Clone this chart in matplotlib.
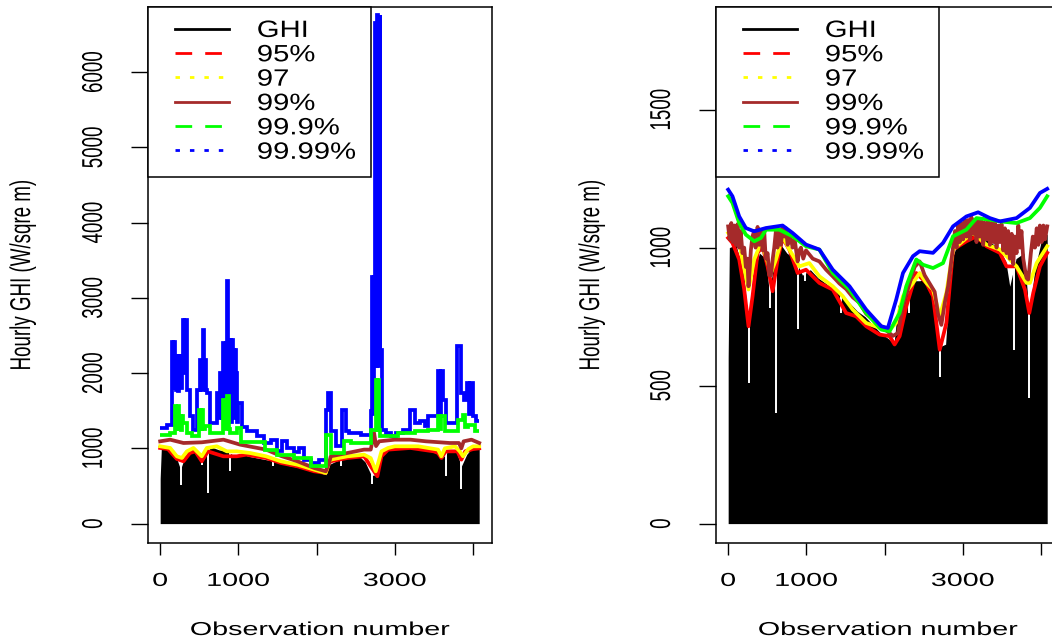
import numpy as np
import matplotlib
matplotlib.use("Agg")
import matplotlib.pyplot as plt
from matplotlib.lines import Line2D
from matplotlib.legend_handler import HandlerLine2D
from matplotlib.patheffects import AbstractPathEffect
from matplotlib.transforms import Affine2D

plt.rcParams['font.family'] = ['Liberation Sans', 'DejaVu Sans']

# ---- data -------------------------------------------------------------
# hourly GHI (same series in both panels), top of the black area
ghi_obs = [0, 15, 100, 200, 260, 320, 400, 480, 525, 580, 650, 750, 850, 950,
           1050, 1150, 1250, 1350, 1450, 1550, 1650, 1750, 1850, 1950, 2050,
           2120, 2170, 2250, 2350, 2450, 2550, 2620, 2700, 2780, 2850, 2950,
           3050, 3150, 3250, 3350, 3450, 3550, 3600, 3680, 3780, 3850, 3920,
           4000, 4079]
ghi_val = [600, 1000, 1010, 900, 720, 900, 980, 960, 840, 930, 1020, 980, 960,
           900, 920, 890, 870, 850, 830, 800, 770, 750, 720, 690, 670, 650, 790,
           830, 880, 880, 890, 820, 640, 650, 950, 1030, 1040, 1050, 1040, 1020,
           1000, 950, 860, 960, 980, 760, 920, 1020, 1050]
# single low observations (white gaps in the black area)
dip_obs = [260, 533, 615, 893, 985, 1445, 2307, 2705, 3650, 3850]
dip_low = [510, 780, 400, 705, 880, 763, 763, 530, 628, 455]

# left panel: step-like quantile estimates (edges / level of each step)
blue_l_edges = [0, 85, 150, 165, 178, 190, 205, 218, 232, 246,
                260, 274, 290, 303, 316, 340, 375, 426, 468, 511,
                528, 545, 560, 575, 590, 605, 640, 724, 745, 767,
                788, 809, 826, 843, 860, 873, 886, 900, 914, 928,
                942, 956, 971, 986, 1001, 1044, 1107, 1235, 1329, 1414,
                1500, 1563, 1627, 1712, 1776, 1840, 1925, 2032, 2117, 2151,
                2181, 2245, 2330, 2373, 2415, 2565, 2692, 2712, 2722, 2735,
                2745, 2760, 2775, 2790, 2805, 2815, 2837, 2893, 2956, 3020,
                3106, 3190, 3255, 3318, 3382, 3425, 3553, 3575, 3595, 3617,
                3659, 3800, 3843, 3885, 3928, 3948, 3965, 4000, 4043, 4080]
blue_l_vals = [1270, 1315, 2408, 1800, 2408, 2222, 1780, 2222, 1760, 2222,
               1800, 2222, 2700, 2000, 2700, 1780, 1425, 1248, 1780, 2178,
               1780, 2568, 1800, 2178, 1780, 1735, 1337, 1735, 1400, 2000,
               1400, 2400, 1400, 2400, 3218, 1500, 2444, 1350, 2444, 2310,
               1400, 2310, 2000, 1350, 1600, 1290, 1226, 1160, 1071, 1115,
               960, 1093, 1005, 947, 1005, 850, 806, 850, 1514, 1735,
               1226, 1027, 1514, 1226, 1204, 1182, 1500, 3280, 1450, 3280,
               6650, 2100, 6760, 2100, 6760, 2311, 1248, 1204, 1160, 1204,
               1248, 1514, 1337, 1359, 1293, 1425, 2023, 1425, 2023, 1647,
               1337, 2355, 1735, 1647, 1868, 1450, 1868, 1425, 1359]
green_l_edges = [0, 128, 192, 207, 222, 238, 255, 270, 285, 298,
                 341, 405, 502, 518, 535, 552, 575, 639, 809, 826,
                 843, 860, 877, 894, 988, 1030, 1340, 1500, 1712, 1925,
                 2117, 2181, 2351, 2437, 2692, 2756, 2770, 2785, 2800, 2811,
                 3042, 3255, 3425, 3553, 3575, 3595, 3638, 3808, 3872, 3900,
                 3936, 4021, 4080]
green_l_vals = [1182, 1204, 1558, 1260, 1558, 1260, 1425, 1250, 1425, 1337,
                1204, 1160, 1514, 1260, 1514, 1260, 1293, 1204, 1647, 1260,
                1647, 1691, 1260, 1204, 1270, 1080, 983, 916, 872, 761,
                1182, 939, 1093, 1071, 1248, 1912, 1250, 1912, 1250, 1160,
                1204, 1226, 1248, 1425, 1260, 1425, 1226, 1381, 1447, 1280,
                1315, 1226]
red_l_obs = [0, 100, 213, 298, 380, 450, 532, 610, 700, 809, 980, 1100, 1354, 1542,
             1755, 1968, 2117, 2160, 2181, 2394, 2607, 2692, 2777, 2829, 2914, 3200,
             3500, 3553, 3595, 3650, 3800, 3851, 3900, 4000, 4079]
red_l_val = [1005, 990, 859, 828, 938, 960, 828, 960, 930, 894, 894, 916, 872, 806,
             761, 695, 673, 800, 828, 872, 894, 761, 629, 894, 983, 1005, 960, 938,
             872, 960, 960, 850, 960, 990, 1000]
yel_l_obs = [0, 128, 213, 277, 341, 426, 532, 596, 724, 852, 980, 1150, 1354, 1542,
             1755, 1968, 2117, 2160, 2181, 2394, 2607, 2692, 2756, 2800, 2829, 2914,
             3000, 3300, 3553, 3595, 3640, 3770, 3830, 3872, 3940, 4000, 4079]
yel_l_val = [1027, 1005, 894, 872, 960, 1005, 894, 1005, 1027, 960, 960, 938, 894,
             828, 783, 717, 673, 820, 850, 894, 916, 870, 695, 850, 960, 1005, 1027,
             1027, 983, 894, 1000, 1027, 960, 894, 990, 1027, 1027]
brn_l_obs = [0, 128, 298, 532, 809, 1022, 1354, 1542, 1755, 1968, 2117, 2160, 2181,
             2394, 2607, 2692, 2735, 2760, 2800, 2999, 3200, 3400, 3700, 3820, 3851,
             3880, 3980, 4079]
brn_l_val = [1093, 1115, 1071, 1080, 1115, 1049, 983, 900, 828, 739, 695, 806, 894,
             938, 983, 983, 1204, 1030, 1093, 1115, 1115, 1093, 1071, 1071, 1000,
             1093, 1115, 1071]

# right panel: smoothed quantile estimates
blue_r_obs = [0, 55, 141, 226, 333, 483, 696, 824, 995, 1166, 1337, 1551, 1765,
              1957, 2042, 2149, 2235, 2363, 2448, 2619, 2747, 2875, 3046, 3196,
              3346, 3474, 3687, 3858, 3986, 4079]
blue_r_val = [1210, 1186, 1113, 1071, 1059, 1071, 1080, 1053, 1011, 993, 920, 860,
              775, 715, 709, 812, 908, 969, 987, 981, 1017, 1077, 1113, 1128, 1107,
              1095, 1107, 1144, 1198, 1213]
green_r_obs = [0, 55, 141, 226, 333, 418, 483, 653, 824, 995, 1166, 1337, 1551,
               1765, 1957, 2064, 2192, 2277, 2405, 2491, 2619, 2747, 2875, 3046,
               3175, 3346, 3474, 3687, 3858, 3986, 4079]
green_r_val = [1186, 1162, 1089, 1047, 1023, 1035, 1065, 1065, 1041, 1005, 993, 908,
               848, 763, 703, 697, 763, 860, 957, 938, 926, 944, 1041, 1065, 1107,
               1101, 1095, 1089, 1107, 1144, 1186]
yel_r_obs = [0, 55, 141, 226, 260, 333, 418, 483, 547, 611, 696, 782, 910, 1038,
             1166, 1337, 1465, 1594, 1765, 1935, 2064, 2149, 2235, 2363, 2448, 2534,
             2619, 2705, 2790, 2875, 3046, 3132, 3303, 3474, 3602, 3687, 3815, 3858,
             3944, 4079]
yel_r_val = [1053, 1029, 1017, 896, 848, 957, 1017, 969, 908, 957, 1041, 993, 932,
             944, 896, 860, 824, 775, 727, 709, 703, 727, 824, 872, 908, 872, 848,
             751, 836, 993, 1035, 1053, 1011, 993, 957, 932, 872, 872, 944, 1005]
red_r_obs = [0, 55, 141, 205, 260, 312, 376, 440, 504, 568, 632, 696, 782, 888, 995,
             1166, 1337, 1508, 1636, 1765, 1935, 2064, 2128, 2192, 2277, 2405, 2534,
             2619, 2705, 2790, 2875, 3046, 3175, 3303, 3474, 3559, 3687, 3794, 3850,
             3901, 3986, 4079]
red_r_val = [1035, 1017, 957, 848, 715, 824, 981, 1005, 932, 842, 957, 1035, 993,
             908, 920, 872, 848, 763, 751, 715, 685, 679, 649, 679, 787, 908, 872,
             824, 630, 727, 993, 1023, 1041, 1005, 981, 932, 932, 848, 763, 836, 932,
             981]
brn_r_obs = [0, 20, 40, 60, 80, 100, 120, 141, 160, 183,
             205, 226, 245, 260, 275, 290, 310, 333, 350, 376,
             395, 418, 440, 461, 480, 504, 525, 547, 570, 589,
             610, 630, 654, 675, 696, 718, 740, 760, 790, 824,
             850, 888, 910, 931, 960, 995, 1081, 1166, 1252, 1337,
             1423, 1508, 1594, 1679, 1765, 1850, 1935, 2021, 2106, 2170,
             2235, 2320, 2384, 2448, 2512, 2576, 2640, 2683, 2726, 2769,
             2812, 2875, 2900, 2920, 2939, 2960, 2980, 3004, 3025, 3046,
             3068, 3090, 3110, 3130, 3153, 3175, 3196, 3217, 3240, 3260,
             3280, 3303, 3325, 3346, 3368, 3388, 3410, 3431, 3452, 3474,
             3495, 3517, 3538, 3559, 3580, 3602, 3625, 3645, 3665, 3687,
             3710, 3730, 3750, 3773, 3795, 3815, 3835, 3850, 3870, 3895,
             3922, 3945, 3965, 3985, 4008, 4030, 4051, 4079]
brn_r_val = [1077, 1030, 1089, 1020, 1080, 1010, 1085, 1000, 1060, 980,
             1000, 930, 960, 860, 920, 990, 1040, 1060, 1000, 1075,
             1010, 1060, 990, 1060, 960, 980, 900, 900, 960, 1000,
             1060, 1000, 1065, 1010, 1075, 1040, 1070, 1010, 1050, 1000,
             1030, 950, 990, 1000, 960, 990, 960, 950, 920, 896,
             870, 850, 820, 800, 760, 740, 720, 700, 680, 690,
             790, 870, 930, 950, 900, 870, 840, 760, 720, 800,
             860, 1000, 1060, 1000, 1080, 1020, 1090, 1030, 1100, 1040,
             1100, 1030, 1110, 1050, 1100, 1020, 1100, 1040, 1095, 1010,
             1090, 1030, 1095, 1010, 1090, 1020, 1095, 1000, 1080, 1020,
             1085, 990, 1070, 980, 1060, 960, 1050, 940, 1040, 980,
             1080, 1000, 1060, 960, 920, 890, 884, 920, 980, 1040,
             1000, 1070, 1010, 1080, 1020, 1080, 1030, 1077]

legend_labels = ['GHI', '95%', '97', '99%', '99.9%', '99.99%']
legend_colors = ['black', 'red', 'yellow', 'brown', 'lime', 'blue']
legend_styles = ['-', (0, (6, 4.7)), (0, (1.6, 3.6)), '-', (0, (6, 4.7)),
                 (0, (1.6, 3.6))]


class Wide(AbstractPathEffect):
    # the reference was resized wider than tall, so widen the glyphs
    def __init__(self, sx=1.5, anchor='center'):
        super().__init__()
        self.sx = sx
        self.anchor = anchor

    def draw_path(self, renderer, gc, tpath, affine, rgbFace=None):
        ext = tpath.get_extents(affine)
        px = ext.x0 if self.anchor == 'left' else 0.5 * (ext.x0 + ext.x1)
        t = affine + Affine2D().translate(-px, 0).scale(self.sx, 1).translate(px, 0)
        renderer.draw_path(gc, tpath, t, rgbFace)


FS = 13.5
SX = 1.53
LW = 2.7

fig = plt.figure(figsize=(10.52, 6.44), dpi=100)
ax1 = fig.add_axes([147.5 / 1052, 0.1561, 0.3275, 0.8331])
ax2 = fig.add_axes([715.5 / 1052, 0.1561, 0.3275, 0.8331])


def draw_base(ax):
    ax.fill_between(ghi_obs, 0, ghi_val, color='black', lw=0, zorder=1)
    ax.vlines(dip_obs, dip_low, 1250, colors='white', lw=1.4, zorder=2)


draw_base(ax1)
ax1.plot(red_l_obs, red_l_val, color='red', lw=LW, zorder=3)
ax1.plot(yel_l_obs, yel_l_val, color='yellow', lw=LW, zorder=4)
ax1.plot(brn_l_obs, brn_l_val, color='brown', lw=LW, zorder=5)
ax1.stairs(blue_l_vals, blue_l_edges, baseline=None, color='blue', lw=LW, zorder=6)
ax1.stairs(green_l_vals, green_l_edges, baseline=None, color='lime', lw=LW, zorder=7)

draw_base(ax2)
ax2.plot(red_r_obs, red_r_val, color='red', lw=LW, zorder=3)
ax2.plot(yel_r_obs, yel_r_val, color='yellow', lw=LW, zorder=4)
ax2.plot(brn_r_obs, brn_r_val, color='brown', lw=LW, zorder=5)
ax2.plot(green_r_obs, green_r_val, color='lime', lw=LW, zorder=6)
ax2.plot(blue_r_obs, blue_r_val, color='blue', lw=LW, zorder=7)

ax1.set_ylim(-264, 6864)
ax1.set_yticks(range(0, 7000, 1000))
ax2.set_ylim(-72, 1872)
ax2.set_yticks([0, 500, 1000, 1500])

for ax, ylab_x in ((ax1, -0.3367), (ax2, -0.3338)):
    ax.set_xlim(-162, 4243)
    ax.set_xticks([0, 1000, 2000, 3000, 4000], ['0', '1000', '', '3000', ''])
    for s in ax.spines.values():
        s.set_linewidth(1.1)
    ax.tick_params(axis='x', length=8.6, width=1.0, pad=12.6, labelsize=FS)
    ax.tick_params(axis='y', length=12.2, width=1.0, pad=26.3, labelsize=FS,
                   labelrotation=90)
    for lab in ax.get_yticklabels():
        lab.set_ha('center')
        lab.set_va('center')
    for lab in ax.get_xticklabels() + ax.get_yticklabels():
        lab.set_path_effects([Wide(SX)])

    ax.set_xlabel('Observation number', fontsize=FS, path_effects=[Wide(SX)])
    ax.xaxis.set_label_coords(0.5, -0.1464)
    ax.set_ylabel('Hourly GHI (W/sqre m)', fontsize=FS, path_effects=[Wide(SX)])
    ax.yaxis.set_label_coords(ylab_x, 0.5)

    handles = [Line2D([], [], color=c, ls=st, lw=2.0)
               for c, st in zip(legend_colors, legend_styles)]
    leg = ax.legend(handles, legend_labels, loc='upper left',
                    bbox_to_anchor=(0.0, 0.0, 0.649, 1.0), mode='expand',
                    borderaxespad=0, fontsize=17, labelspacing=0.1,
                    borderpad=0.55, handlelength=2.9, handletextpad=1.19,
                    fancybox=False, framealpha=1, edgecolor='black',
                    handler_map={Line2D: HandlerLine2D(xpad=0.61)})
    leg.get_frame().set_linewidth(1.1)
    leg.set_zorder(10)
    for t in leg.get_texts():
        t.set_path_effects([Wide(1.24, anchor='left')])

fig.savefig('out.png', dpi=100)
